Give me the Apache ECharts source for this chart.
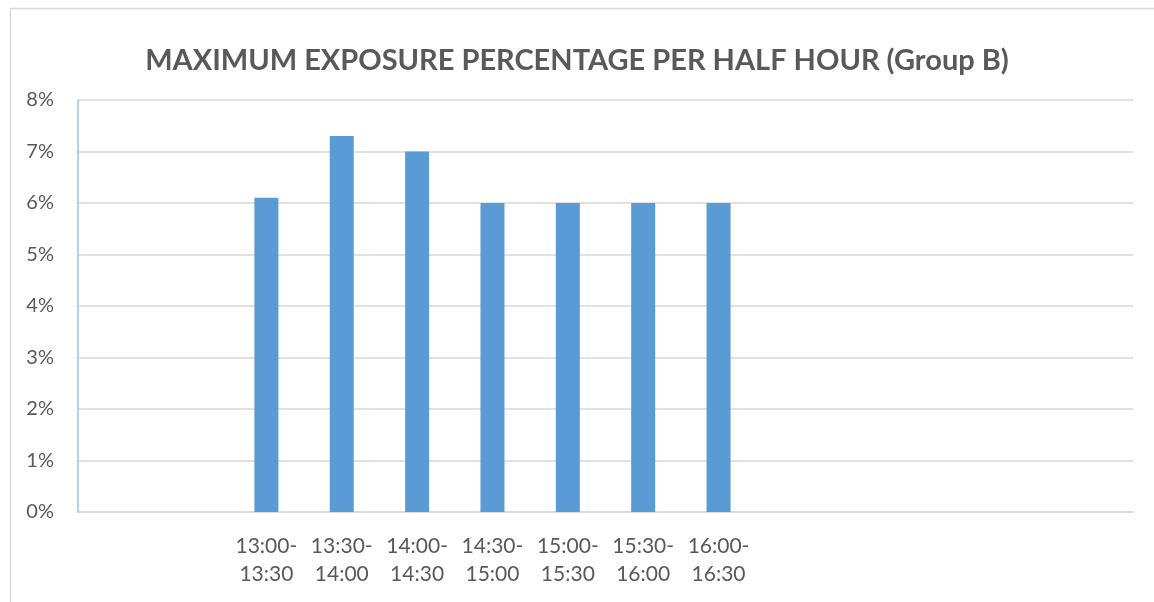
<!DOCTYPE html>
<html>
<head>
<meta charset="utf-8">
<style>
  html, body { margin: 0; padding: 0; background: #fff; }
  #chart { width: 1154px; height: 602px; }
</style>
<script src="https://cdn.jsdelivr.net/npm/echarts@6/dist/echarts.min.js"></script>
</head>
<body>
<div id="chart"></div>
<script>
// Half-hour slots; the empty slots keep the bars placed within the full day window
const categories = ['', '', '13:00-\n13:30', '13:30-\n14:00', '14:00-\n14:30', '14:30-\n15:00',
  '15:00-\n15:30', '15:30-\n16:00', '16:00-\n16:30', '', '', '', '', ''];
// Maximum exposure (%) per slot
const exposure = [null, null, 6.1, 7.3, 7.0, 6.0, 6.0, 6.0, 6.0, null, null, null, null, null];
const yTicks = { min: 0, max: 8, interval: 1 };

const chart = echarts.init(document.getElementById('chart'));
const textColor = '#595959';
const font = 'Lato, "Open Sans", sans-serif';

chart.setOption({
  animation: false,
  backgroundColor: '#fff',
  graphic: [{
    type: 'rect',
    left: 8, top: 6,
    shape: { width: 1200, height: 700 },
    style: { fill: 'none', stroke: '#d9d9d9', lineWidth: 1.5 },
    silent: true
  }],
  title: {
    text: 'MAXIMUM EXPOSURE PERCENTAGE PER HALF HOUR (Group B)',
    left: 'center',
    top: 41,
    textStyle: { color: textColor, fontSize: 29, fontWeight: 'bold', fontFamily: font }
  },
  grid: { left: 78, right: 21, top: 100, bottom: 90, containLabel: false },
  xAxis: {
    type: 'category',
    data: categories,
    axisLine: { show: true, lineStyle: { color: '#d9d9d9', width: 1.5 } },
    axisTick: { show: false },
    axisLabel: {
      color: textColor, fontSize: 21, fontFamily: font, interval: 0,
      margin: 20, lineHeight: 28
    }
  },
  yAxis: {
    type: 'value',
    min: yTicks.min, max: yTicks.max, interval: yTicks.interval,
    axisLine: { show: true, lineStyle: { color: '#9dc3e6', width: 1.5 } },
    axisTick: { show: false },
    splitLine: { lineStyle: { color: '#d9d9d9', width: 1.5 } },
    axisLabel: {
      color: textColor, fontSize: 20, fontFamily: font, margin: 24,
      formatter: v => v + '%'
    }
  },
  series: [{
    type: 'bar',
    data: exposure,
    barWidth: 24,
    itemStyle: { color: '#5b9bd5' }
  }]
});
</script>
</body>
</html>
